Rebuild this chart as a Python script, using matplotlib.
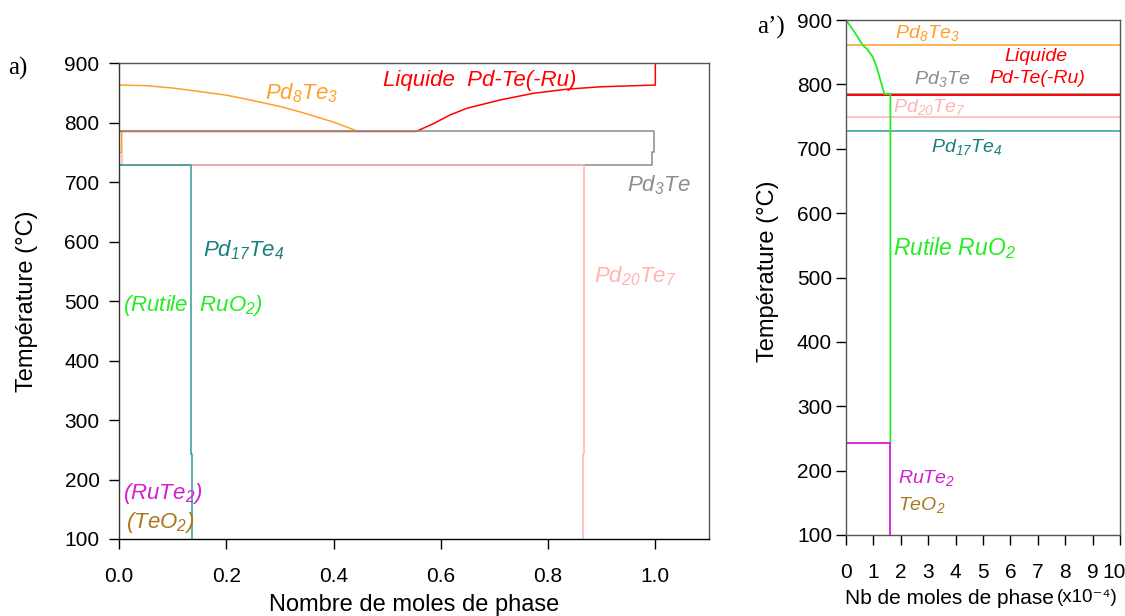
import matplotlib
matplotlib.use('Agg')
import matplotlib.pyplot as plt
import matplotlib.transforms as mtransforms

plt.rcParams['font.family'] = ['Liberation Sans', 'DejaVu Sans']
plt.rcParams['mathtext.fontset'] = 'custom'
plt.rcParams['mathtext.rm'] = 'Liberation Sans:italic'
plt.rcParams['mathtext.it'] = 'Liberation Sans:italic'
plt.rcParams['mathtext.sf'] = 'Liberation Sans:italic'

# ---- panel a) : phase fractions ----
liquid_x = [1.0, 1.0, 0.897, 0.835, 0.772, 0.711, 0.649, 0.618, 0.586, 0.554, 0.0]
liquid_T = [900, 863, 860, 856, 849, 838, 824, 813, 798, 785, 785]

pd8te3_x = [0.0, 0.05, 0.10, 0.151, 0.20, 0.244, 0.30, 0.337, 0.37, 0.399, 0.42, 0.443,
            0.005, 0.005, 0.0]
pd8te3_T = [863, 862, 858, 852, 846, 838, 827, 818, 809, 801, 794, 786,
            786, 750, 750]

pd3te_x = [0.0, 0.998, 0.998, 0.994, 0.994, 0.0]
pd3te_T = [785, 785, 751, 751, 729, 729]

pd20te7_x = [0.005, 0.005, 0.867, 0.867, 0.865, 0.865]
pd20te7_T = [750, 729, 729, 243, 243, 100]

pd17te4_x = [0.0, 0.134, 0.134, 0.136, 0.136]
pd17te4_T = [729, 729, 243, 243, 100]

# ---- panel a') : moles of phase (x1e-4) ----
rutile_x = [0, 0.33, 0.61, 0.79, 0.97, 1.12, 1.24, 1.34, 1.40, 1.62, 1.62]
rutile_T = [900, 880, 861, 854, 843, 827, 809, 794, 785, 785, 243]
rute2_x = [0, 1.62, 1.62]
rute2_T = [243, 243, 100]
# temperatures where the other phases appear (off-scale amounts)
T_pd8te3 = 861
T_pd3te = 785
T_liquid = 784
T_pd20te7 = 749
T_pd17te4 = 728

c_orange = '#FFA028'
c_red = '#FF0000'
c_gray = '#8C8C8C'
c_pink = '#FFB4B4'
c_teal = '#2E9C9A'
c_green = '#22EE22'
c_magenta = '#D21ED2'
c_brown = '#A8781E'

fig = plt.figure(figsize=(11.25, 6.16), dpi=100)

# ================= a) =================
ax = fig.add_axes([0.1058, 0.125, 0.5244, 0.7727])
lw = 1.1
ax.plot(liquid_x, liquid_T, color=c_red, lw=lw)
ax.plot(pd8te3_x, pd8te3_T, color=c_orange, lw=lw)
ax.plot(pd3te_x, pd3te_T, color=c_gray, lw=lw)
ax.plot(pd20te7_x, pd20te7_T, color=c_pink, lw=lw)
ax.plot(pd17te4_x, pd17te4_T, color=c_teal, lw=lw)

ax.set_xlim(0, 1.1)
ax.set_ylim(100, 900)
ax.set_xticks([0, 0.2, 0.4, 0.6, 0.8, 1.0])
ax.set_xticklabels(['0.0', '0.2', '0.4', '0.6', '0.8', '1.0'])
ax.set_yticks(range(100, 901, 100))
ax.tick_params(direction='out', length=7, width=1, labelsize=15)
ax.tick_params(axis='x', pad=13)
ax.tick_params(axis='y', pad=7)
ax.set_xlabel('Nombre de moles de phase', fontsize=17)
ax.set_ylabel('Température (°C)', fontsize=17)
ax.xaxis.set_label_coords(0.5, -0.115)
ax.yaxis.set_label_coords(-0.137, 0.5)
ax.spines['left'].set_color('#333333')
ax.spines['bottom'].set_color('black')
ax.spines['top'].set_color('#555555')
ax.spines['right'].set_color('#555555')
for s in ax.spines.values():
    s.set_linewidth(1.0)

fs = 16
ax.text(0.34, 850, 'Pd$_{8}$Te$_{3}$', color=c_orange, fontsize=fs, style='italic',
        ha='center', va='center')
ax.text(0.673, 870, 'Liquide  Pd-Te(-Ru)', color=c_red, fontsize=fs, style='italic',
        ha='center', va='center')
ax.text(1.007, 694, 'Pd$_{3}$Te', color=c_gray, fontsize=fs, style='italic',
        ha='center', va='center')
ax.text(0.232, 586, 'Pd$_{17}$Te$_{4}$', color='#1A7F7F', fontsize=fs, style='italic',
        ha='center', va='center')
ax.text(0.963, 541, 'Pd$_{20}$Te$_{7}$', color=c_pink, fontsize=fs, style='italic',
        ha='center', va='center')
ax.text(0.138, 492, '(Rutile  RuO$_{2}$)', color=c_green, fontsize=fs, style='italic',
        ha='center', va='center')
ax.text(0.082, 177, '(RuTe$_{2}$)', color=c_magenta, fontsize=fs, style='italic',
        ha='center', va='center')
ax.text(0.076, 128, '(TeO$_{2}$)', color=c_brown, fontsize=fs, style='italic',
        ha='center', va='center')

fig.text(8 / 1125, 1 - 68 / 616, 'a)', family='Liberation Serif', fontsize=18,
         ha='left', va='center')

# ================= a') =================
ax2 = fig.add_axes([0.752, 0.1315, 0.2436, 0.836])
ax2.axhline(T_pd8te3, color=c_orange, lw=lw)
ax2.axhline(T_pd3te, color=c_gray, lw=lw)
ax2.axhline(T_liquid, color=c_red, lw=1.4)
ax2.axhline(T_pd20te7, color=c_pink, lw=lw)
ax2.axhline(T_pd17te4, color=c_teal, lw=lw)
ax2.plot(rutile_x, rutile_T, color=c_green, lw=1.3)
ax2.plot(rute2_x, rute2_T, color=c_magenta, lw=1.3)

ax2.set_xlim(0, 10)
ax2.set_ylim(100, 900)
ax2.set_xticks(range(0, 11))
ax2.set_yticks(range(100, 901, 100))
ax2.tick_params(direction='out', length=7, width=1, labelsize=15)
ax2.tick_params(axis='x', pad=13)
ax2.tick_params(axis='y', pad=3)
ax2.set_ylabel('Température (°C)', fontsize=17)
ax2.yaxis.set_label_coords(-0.245, 0.513)
for s in ax2.spines.values():
    s.set_color('#555555')
    s.set_linewidth(1.0)
# pull the last tick label a little inside the figure
last = ax2.get_xticklabels()[-1]
last.set_transform(last.get_transform() +
                   mtransforms.ScaledTranslation(-6 / 100, 0, fig.dpi_scale_trans))

ax2.text(2.96, 880, 'Pd$_{8}$Te$_{3}$', color=c_orange, fontsize=14, style='italic',
         ha='center', va='center')
ax2.text(6.93, 843, 'Liquide', color=c_red, fontsize=14, style='italic',
         ha='center', va='center')
ax2.text(7.0, 809, 'Pd-Te(-Ru)', color=c_red, fontsize=14, style='italic',
         ha='center', va='center')
ax2.text(3.5, 809, 'Pd$_{3}$Te', color=c_gray, fontsize=14, style='italic',
         ha='center', va='center')
ax2.text(3.03, 765, 'Pd$_{20}$Te$_{7}$', color=c_pink, fontsize=14, style='italic',
         ha='center', va='center')
ax2.text(4.4, 703, 'Pd$_{17}$Te$_{4}$', color='#1A7F7F', fontsize=14, style='italic',
         ha='center', va='center')
ax2.text(1.72, 546, 'Rutile RuO$_{2}$', color=c_green, fontsize=16.5, style='italic',
         ha='left', va='center')
ax2.text(1.9, 189, 'RuTe$_{2}$', color=c_magenta, fontsize=14, style='italic',
         ha='left', va='center')
ax2.text(1.9, 147, 'TeO$_{2}$', color=c_brown, fontsize=14, style='italic',
         ha='left', va='center')

fig.text(1054 / 1125, 1 - 598 / 616, 'Nb de moles de phase', fontsize=15,
         ha='right', va='center')
fig.text(1057 / 1125, 1 - 598 / 616, '(x10⁻⁴)', fontsize=13.5,
         ha='left', va='center')
fig.text(757 / 1125, 1 - 27 / 616, 'a\u2019)', family='Liberation Serif', fontsize=18,
         ha='left', va='center')

fig.savefig('out.png', dpi=100)
